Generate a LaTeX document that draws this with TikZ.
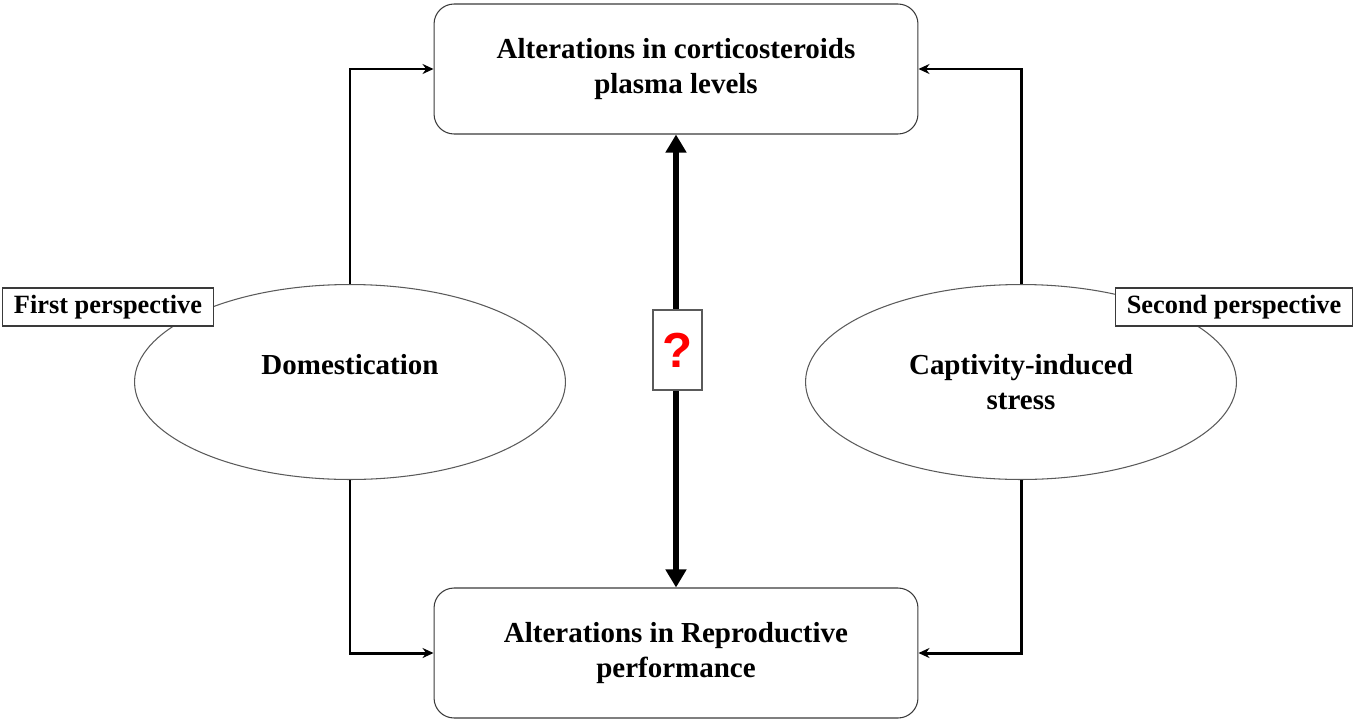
\documentclass[tikz,border=0pt]{standalone}
\usepackage{fontspec}
\setmainfont{Liberation Serif}
\newfontfamily\qmarkfont{Liberation Sans}
\usetikzlibrary{arrows.meta,shapes.geometric,positioning}
\definecolor{boxline}{HTML}{3A3A3A}
\definecolor{ellline}{HTML}{5A5A5A}
\definecolor{qred}{HTML}{FF0000}
\tikzset{
  mainbox/.style={draw=boxline,line width=0.6pt,rounded corners=0.4cm,
    minimum width=9.68cm,minimum height=2.6cm,align=center,
    font=\fontsize{16.5}{20}\selectfont\bfseries},
  causeell/.style={ellipse,draw=ellline,line width=0.6pt,inner sep=0pt,
    minimum width=8.62cm,minimum height=3.9cm,align=center,
    font=\fontsize{16.5}{20}\selectfont\bfseries},
  tagbox/.style={draw=boxline,fill=white,line width=0.6pt,inner xsep=0.22cm,
    inner ysep=0pt,minimum height=0.76cm,
    font=\fontsize{15}{18}\selectfont\bfseries},
  conn/.style={line width=1.7pt,-{Stealth[length=0.22cm,width=0.2cm]}},
  bigconn/.style={line width=0.12cm,
    {Triangle[length=0.36cm,width=0.4cm]}-{Triangle[length=0.36cm,width=0.4cm]}}
}
\begin{document}
\begin{tikzpicture}[x=0.02cm,y=-0.02cm]
  \useasboundingbox (0,0) rectangle (1354,720);
  % outcomes
  \node[mainbox] (cort) at (676,69) {Alterations in corticosteroids\\plasma levels};
  \node[mainbox] (repro) at (676,653) {Alterations in Reproductive\\performance};
  % causes
  \node[causeell] (dom) at (350,382) {Domestication\\~};
  \node[causeell] (capt) at (1021,382) {Captivity-induced\\stress};
  % links
  \draw[conn] (dom.north) |- (cort.west);
  \draw[conn] (dom.south) |- (repro.west);
  \draw[conn] (capt.north) |- (cort.east);
  \draw[conn] (capt.south) |- (repro.east);
  \draw[bigconn] (cort.south) -- (repro.north);
  \node[draw=ellline,fill=white,line width=0.6pt,minimum width=0.98cm,
    minimum height=1.6cm,inner sep=0pt,text=qred,
    font=\qmarkfont\fontsize{28}{30}\selectfont\bfseries] (qmark) at (677.5,350) {?};
  % labels
  \node[tagbox] (first) at (108,307) {First perspective};
  \node[tagbox] (second) at (1234,307) {Second perspective};
\end{tikzpicture}
\end{document}
